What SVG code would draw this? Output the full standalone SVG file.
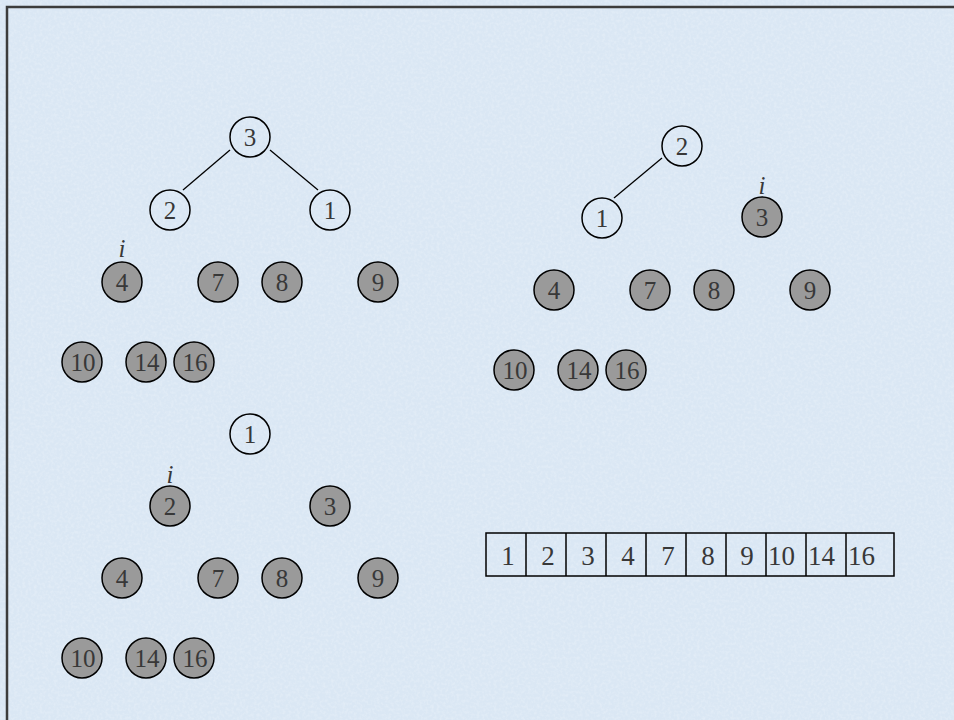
<svg xmlns="http://www.w3.org/2000/svg" width="954" height="720" viewBox="0 0 954 720">
<defs>
<filter id="tex" x="0" y="0" width="100%" height="100%">
<feTurbulence type="fractalNoise" baseFrequency="0.35" numOctaves="2" seed="3" result="n"/>
<feColorMatrix in="n" type="matrix" values="0 0 0 0 1  0 0 0 0 1  0 0 0 0 1  0 0 0 0.9 -0.35" result="w"/>
<feComposite in="w" in2="SourceGraphic" operator="in"/>
</filter>
<style>
.n circle{stroke:#000;stroke-width:1.5}
.w circle{fill:none}
.g circle{fill:#9a9a9a}
.n text{font-family:"Liberation Serif","Times New Roman",serif;font-size:25px;fill:#383838;text-anchor:middle}
.lbl{font-family:"Liberation Serif","Times New Roman",serif;font-size:25px;font-style:italic;fill:#383838;text-anchor:middle}
.edges line{stroke:#000;stroke-width:1.3}
.arr rect{fill:none;stroke:#000;stroke-width:1.5}
.arr line{stroke:#000;stroke-width:1.5}
.arr text{font-family:"Liberation Serif","Times New Roman",serif;font-size:27px;fill:#383838}
</style>
</defs>
<rect x="0" y="0" width="954" height="720" fill="#dae7f4"/>
<rect x="0" y="0" width="954" height="720" fill="#dae7f4" filter="url(#tex)" opacity="0.5"/>
<path d="M7 720 V7 H954" fill="none" stroke="#3c3c3c" stroke-width="2.5"/>

<g id="connectors" class="edges">
<line x1="230" y1="150" x2="183" y2="190"/>
<line x1="270" y1="150" x2="318" y2="190"/>
<line x1="662" y1="158" x2="614" y2="198"/>
</g>

<!-- Tree A -->
<g id="a3" class="n w"><circle cx="250" cy="137" r="20"/><text x="250" y="146">3</text></g>
<g id="a2" class="n w"><circle cx="170" cy="210" r="20"/><text x="170" y="219">2</text></g>
<g id="a1" class="n w"><circle cx="330" cy="210" r="20"/><text x="330" y="219">1</text></g>
<text id="ai" class="lbl" x="122" y="257">i</text>
<g id="a4" class="n g"><circle cx="122" cy="282" r="20"/><text x="122" y="291">4</text></g>
<g id="a7" class="n g"><circle cx="218" cy="282" r="20"/><text x="218" y="291">7</text></g>
<g id="a8" class="n g"><circle cx="282" cy="282" r="20"/><text x="282" y="291">8</text></g>
<g id="a9" class="n g"><circle cx="378" cy="282" r="20"/><text x="378" y="291">9</text></g>
<g id="a10" class="n g"><circle cx="82" cy="362" r="20"/><text x="83" y="371">10</text></g>
<g id="a14" class="n g"><circle cx="146" cy="362" r="20"/><text x="147" y="371">14</text></g>
<g id="a16" class="n g"><circle cx="194" cy="362" r="20"/><text x="195" y="371">16</text></g>

<!-- Tree B -->
<g id="b2" class="n w"><circle cx="682" cy="146" r="20"/><text x="682" y="155">2</text></g>
<g id="b1" class="n w"><circle cx="602" cy="218" r="20"/><text x="602" y="227">1</text></g>
<text id="bi" class="lbl" x="762" y="194">i</text>
<g id="b3" class="n g"><circle cx="762" cy="217" r="20"/><text x="762" y="226">3</text></g>
<g id="b4" class="n g"><circle cx="554" cy="290" r="20"/><text x="554" y="299">4</text></g>
<g id="b7" class="n g"><circle cx="650" cy="290" r="20"/><text x="650" y="299">7</text></g>
<g id="b8" class="n g"><circle cx="714" cy="290" r="20"/><text x="714" y="299">8</text></g>
<g id="b9" class="n g"><circle cx="810" cy="290" r="20"/><text x="810" y="299">9</text></g>
<g id="b10" class="n g"><circle cx="514" cy="370" r="20"/><text x="515" y="379">10</text></g>
<g id="b14" class="n g"><circle cx="578" cy="370" r="20"/><text x="579" y="379">14</text></g>
<g id="b16" class="n g"><circle cx="626" cy="370" r="20"/><text x="627" y="379">16</text></g>

<!-- Tree C -->
<g id="c1" class="n w"><circle cx="250" cy="434" r="20"/><text x="250" y="443">1</text></g>
<text id="ci" class="lbl" x="170" y="483">i</text>
<g id="c2" class="n g"><circle cx="170" cy="506" r="20"/><text x="170" y="515">2</text></g>
<g id="c3" class="n g"><circle cx="330" cy="506" r="20"/><text x="330" y="515">3</text></g>
<g id="c4" class="n g"><circle cx="122" cy="578" r="20"/><text x="122" y="587">4</text></g>
<g id="c7" class="n g"><circle cx="218" cy="578" r="20"/><text x="218" y="587">7</text></g>
<g id="c8" class="n g"><circle cx="282" cy="578" r="20"/><text x="282" y="587">8</text></g>
<g id="c9" class="n g"><circle cx="378" cy="578" r="20"/><text x="378" y="587">9</text></g>
<g id="c10" class="n g"><circle cx="82" cy="658" r="20"/><text x="83" y="667">10</text></g>
<g id="c14" class="n g"><circle cx="146" cy="658" r="20"/><text x="147" y="667">14</text></g>
<g id="c16" class="n g"><circle cx="194" cy="658" r="20"/><text x="195" y="667">16</text></g>

<!-- Array -->
<g id="array" class="arr">
<rect x="486" y="533" width="408" height="43"/>
<line x1="526" y1="533" x2="526" y2="576"/>
<line x1="566" y1="533" x2="566" y2="576"/>
<line x1="606" y1="533" x2="606" y2="576"/>
<line x1="646" y1="533" x2="646" y2="576"/>
<line x1="686" y1="533" x2="686" y2="576"/>
<line x1="726" y1="533" x2="726" y2="576"/>
<line x1="766" y1="533" x2="766" y2="576"/>
<line x1="806" y1="533" x2="806" y2="576"/>
<line x1="846" y1="533" x2="846" y2="576"/>
<text x="508" y="565" text-anchor="middle">1</text>
<text x="548" y="565" text-anchor="middle">2</text>
<text x="588" y="565" text-anchor="middle">3</text>
<text x="628" y="565" text-anchor="middle">4</text>
<text x="668" y="565" text-anchor="middle">7</text>
<text x="708" y="565" text-anchor="middle">8</text>
<text x="747" y="565" text-anchor="middle">9</text>
<text x="768" y="565">10</text>
<text x="808" y="565">14</text>
<text x="848" y="565">16</text>
</g>
</svg>
